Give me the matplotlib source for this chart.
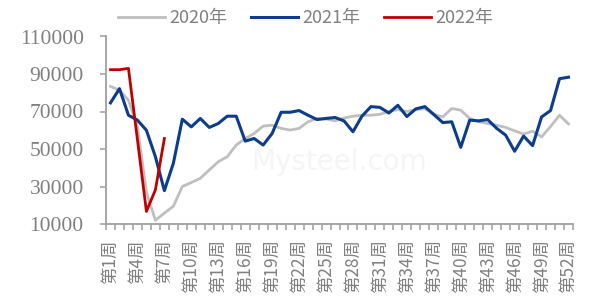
import matplotlib.pyplot as plt
from matplotlib.ticker import FixedLocator

plt.rcParams['font.family'] = ['Noto Sans CJK SC', 'DejaVu Sans']

# 周次
weeks = list(range(1, 53))
week_labels = ['第%d周' % w for w in weeks]

# 2020年
y2020 = [83400, 81300, 76000, 62000, 27000, 12000, 15800, 19500, 30000, 32100,
         34400, 38800, 43200, 45900, 52100, 55600, 58300, 62200, 62700, 61000,
         60100, 61000, 64500, 66300, 66000, 65000, 66500, 67500, 68000, 68000,
         68500, 70000, 71000, 70000, 71000, 71500, 68500, 67100, 71600, 70700,
         66300, 64500, 63600, 62700, 61500, 59700, 58000, 59500, 56500, 62000,
         68000, 63400]
# 2021年
y2021 = [74600, 82200, 68000, 65400, 60000, 45900, 27800, 42400, 65900, 61800,
         66300, 61500, 63600, 67500, 67500, 54200, 55600, 52100, 58300, 69600,
         69600, 70500, 68000, 65700, 66300, 66800, 65000, 59200, 67500, 72600,
         72200, 69200, 73300, 67300, 71400, 72600, 68400, 64100, 64500, 50900,
         65400, 65000, 65700, 61000, 57400, 48800, 56900, 51800, 67100, 70500,
         87500, 88300]
# 2022年
y2022 = [92300, 92300, 93000, 55000, 16700, 28200, 55600]

grid_c = '#a6a6a6'
txt_c = '#808080'

fig = plt.figure(figsize=(5.94, 3.07), dpi=100)
ax = fig.add_axes([106 / 594, 1 - 224 / 307, 467 / 594, (224 - 36.5) / 307])

# 水印
ax.text(0.5, 0.33, 'Mysteel.com', transform=ax.transAxes, ha='center', va='center',
        fontsize=20, color='#f5f5f5', family=['DejaVu Sans'], zorder=0)

ax.plot(weeks, y2020, color='#bfbfbf', lw=2.0, label='2020年')
ax.plot(weeks, y2021, color='#0b3d8c', lw=2.2, label='2021年')
ax.plot(weeks[:len(y2022)], y2022, color='#c00000', lw=2.0, label='2022年')

ax.set_xlim(0.5, 52.5)
ax.set_ylim(10000, 110000)
ax.set_yticks(range(10000, 110001, 20000))
ax.set_yticklabels([str(v) for v in range(10000, 110001, 20000)],
                   family=['Liberation Serif'], fontsize=15.5, color=txt_c)

ax.set_xticks(weeks[::3])
ax.set_xticklabels(week_labels[::3], rotation=90, fontsize=12.5, color=txt_c)
ax.xaxis.set_minor_locator(FixedLocator([w + 0.5 for w in range(0, 53)]))
ax.tick_params(axis='x', which='major', length=0, pad=11)
ax.tick_params(axis='x', which='minor', length=4, color=grid_c, width=1.2)
ax.tick_params(axis='y', length=4, color=grid_c, width=1.2, pad=12)

for s in ['top', 'right']:
    ax.spines[s].set_visible(False)
for s in ['left', 'bottom']:
    ax.spines[s].set_color(grid_c)
    ax.spines[s].set_linewidth(1.4)

leg = fig.legend(loc='center', bbox_to_anchor=(306 / 594, 1 - 18 / 307), ncol=3,
                 frameon=False, fontsize=13, handlelength=2.6, handletextpad=0.25,
                 columnspacing=1.3)
for t in leg.get_texts():
    t.set_color(txt_c)

fig.savefig('out.png', dpi=100)
